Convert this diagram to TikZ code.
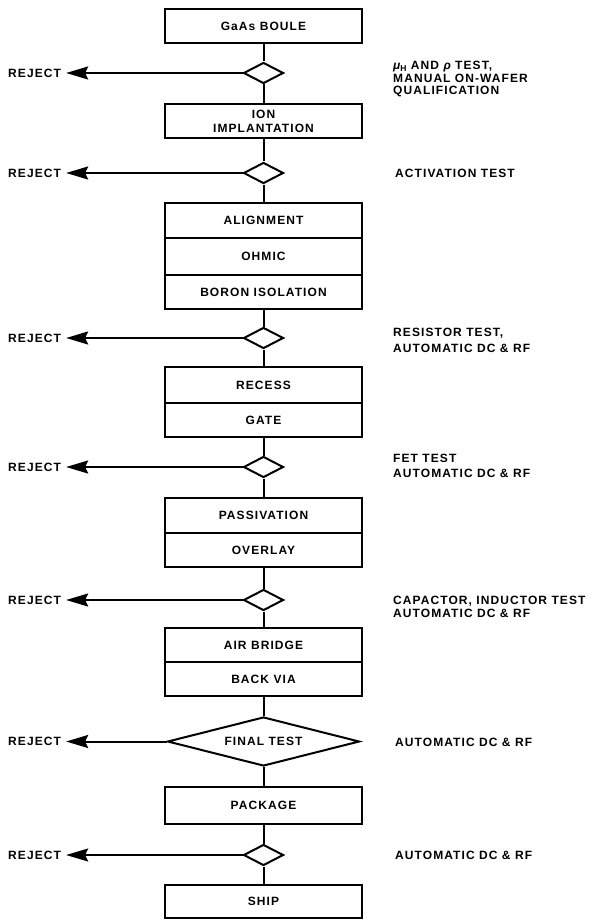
\documentclass[tikz,border=0pt]{standalone}
\usepackage{fontspec}
\newfontfamily\flowfont{Liberation Sans}[LetterSpace=9]
\usetikzlibrary{shapes.geometric,arrows.meta}
\begin{document}
\begin{tikzpicture}[x=1pt,y=-1pt,
  every node/.style={font=\flowfont\bfseries\fontsize{12}{14}\selectfont},
  stage/.style={draw, line width=2.2pt, minimum width=197pt, inner sep=0pt, align=center},
  check/.style={draw, line width=2pt, shape=diamond, minimum width=40pt,
                minimum height=21pt, inner sep=0pt},
  flow/.style={line width=2pt},
  reject/.style={line width=2pt, -{Stealth[length=22pt,width=13pt,inset=3pt]}},
  rejlabel/.style={anchor=west, inner sep=0pt},
  note/.style={anchor=west, inner sep=0pt, align=left}
]
\path[fill=white] (0,0) rectangle (597,920);
\useasboundingbox (0,0) rectangle (597,920);

% process stages and test points
\node[stage, minimum height=34pt] (boule) at (263.5,26) {GaAs BOULE};
\node[check] (t1) at (263.5,73) {};
\node[stage, minimum height=34pt] (ion) at (263.5,121) {ION\\IMPLANTATION};
\node[check] (t2) at (263.5,173) {};
\node[stage, minimum height=35pt] (align) at (263.5,220.5) {ALIGNMENT};
\node[stage, minimum height=37pt] (ohmic) at (263.5,256.5) {OHMIC};
\node[stage, minimum height=34pt] (boron) at (263.5,292) {BORON ISOLATION};
\node[check] (t3) at (263.5,338) {};
\node[stage, minimum height=36pt] (recess) at (263.5,385) {RECESS};
\node[stage, minimum height=34pt] (gate) at (263.5,420) {GATE};
\node[check] (t4) at (263.5,467) {};
\node[stage, minimum height=35pt] (passiv) at (263.5,515.5) {PASSIVATION};
\node[stage, minimum height=34pt] (overlay) at (263.5,550) {OVERLAY};
\node[check] (t5) at (263.5,600) {};
\node[stage, minimum height=34pt] (airbr) at (263.5,645) {AIR BRIDGE};
\node[stage, minimum height=34pt] (backvia) at (263.5,679) {BACK VIA};
\node[check, minimum width=192pt, minimum height=49pt, aspect=4] (final) at (263.5,741.5) {FINAL TEST};
\node[stage, minimum height=37pt] (package) at (263.5,805.5) {PACKAGE};
\node[check] (t6) at (263.5,855) {};
\node[stage, minimum height=33pt] (ship) at (263.5,901.5) {SHIP};

% main flow
\draw[flow] (boule) -- (t1) -- (ion) -- (t2) -- (align);
\draw[flow] (boron) -- (t3) -- (recess);
\draw[flow] (gate) -- (t4) -- (passiv);
\draw[flow] (overlay) -- (t5) -- (airbr);
\draw[flow] (backvia) -- (final) -- (package) -- (t6) -- (ship);

% reject branches
\foreach \t/\y in {t1/73, t2/173, t3/338, t4/467, t5/600, final/741.5, t6/855}{
  \node[rejlabel] (r\t) at (8,\y) {REJECT};
  \draw[reject] (\t.west) -- ([xshift=5pt]r\t.east);
}

% test descriptions
\node[note, font=\flowfont\bfseries\fontsize{12}{12.5}\selectfont] (n1) at (393,79)
  {{\itshape μ}\raisebox{-1.8pt}{\fontsize{8.5}{8.5}\selectfont H} AND {\itshape ρ} TEST,\\MANUAL ON-WAFER\\QUALIFICATION};
\node[note] (n2) at (395,173) {ACTIVATION TEST};
\node[note, font=\flowfont\bfseries\fontsize{12}{16}\selectfont] (n3) at (393,340) {RESISTOR TEST,\\AUTOMATIC DC \& RF};
\node[note, font=\flowfont\bfseries\fontsize{12}{15}\selectfont] (n4) at (393,465.5) {FET TEST\\AUTOMATIC DC \& RF};
\node[note, font=\flowfont\bfseries\fontsize{12}{13}\selectfont] (n5) at (393,607) {CAPACTOR, INDUCTOR TEST\\AUTOMATIC DC \& RF};
\node[note] (n6) at (395,742) {AUTOMATIC DC \& RF};
\node[note] (n7) at (395,855) {AUTOMATIC DC \& RF};
\end{tikzpicture}
\end{document}
